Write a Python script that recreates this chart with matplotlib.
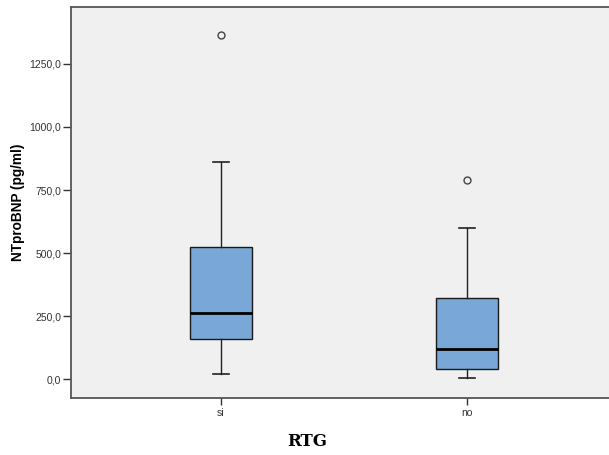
import numpy as np
import matplotlib
matplotlib.use('Agg')
import matplotlib.pyplot as plt

# NTproBNP por grupo RTG (resumen del boxplot)
groups   = ["si", "no"]
whislo   = [20.0, 4.0]
q1       = [159.0, 40.0]
medians  = [262.0, 119.0]
q3       = [524.0, 321.0]
whishi   = [861.0, 600.0]
outliers = [[1365.0], [790.0]]

yticks = [0, 250, 500, 750, 1000, 1250]

stats = []
for i, g in enumerate(groups):
    stats.append(dict(label=g, whislo=whislo[i], q1=q1[i], med=medians[i],
                      q3=q3[i], whishi=whishi[i], fliers=outliers[i]))

fig = plt.figure(figsize=(6.09, 4.55), dpi=100)
fig.patch.set_facecolor("white")
# eje ancho: el borde derecho queda fuera del lienzo
ax = fig.add_axes([71 / 609, 1 - 398 / 455, 546 / 609, 391 / 455])
ax.set_facecolor("#F0F0F0")

ax.bxp(stats, positions=[0, 1], widths=0.252, patch_artist=True,
       boxprops=dict(facecolor="#79A7D7", edgecolor="#1a1a1a", linewidth=1.0),
       medianprops=dict(color="black", linewidth=2.0),
       whiskerprops=dict(color="#222222", linewidth=1.0),
       capprops=dict(color="#222222", linewidth=1.2),
       capwidths=0.065,
       flierprops=dict(marker="o", markersize=5, markerfacecolor="none",
                       markeredgecolor="#444444", markeredgewidth=1.0))

ax.set_xlim(-0.61, 1.61)
ax.set_ylim(-75, 1476)
ax.set_yticks(yticks)
ax.set_yticklabels([f"{v:.1f}".replace(".", ",") for v in yticks],
                   fontsize=7.5, family="Liberation Sans", color="#333333")
ax.set_xticks([0, 1])
ax.set_xticklabels(groups, fontsize=7.5, family="Liberation Sans", color="#333333")
ax.tick_params(axis="y", length=6, width=1.0, color="#333333", pad=1)
ax.tick_params(axis="x", length=5, width=1.0, color="#333333", pad=2)

for side in ["left", "bottom", "top"]:
    ax.spines[side].set_color("#555555")
    ax.spines[side].set_linewidth(1.3)
ax.spines["right"].set_visible(False)

ax.set_ylabel("NTproBNP (pg/ml)", fontsize=9.8, fontweight="bold",
              family="Liberation Sans", labelpad=3)
fig.text(307 / 609, 1 - 441 / 455, "RTG", fontsize=12, fontweight="bold",
         family="DejaVu Serif", ha="center", va="center")

fig.savefig("out.png", dpi=100)
